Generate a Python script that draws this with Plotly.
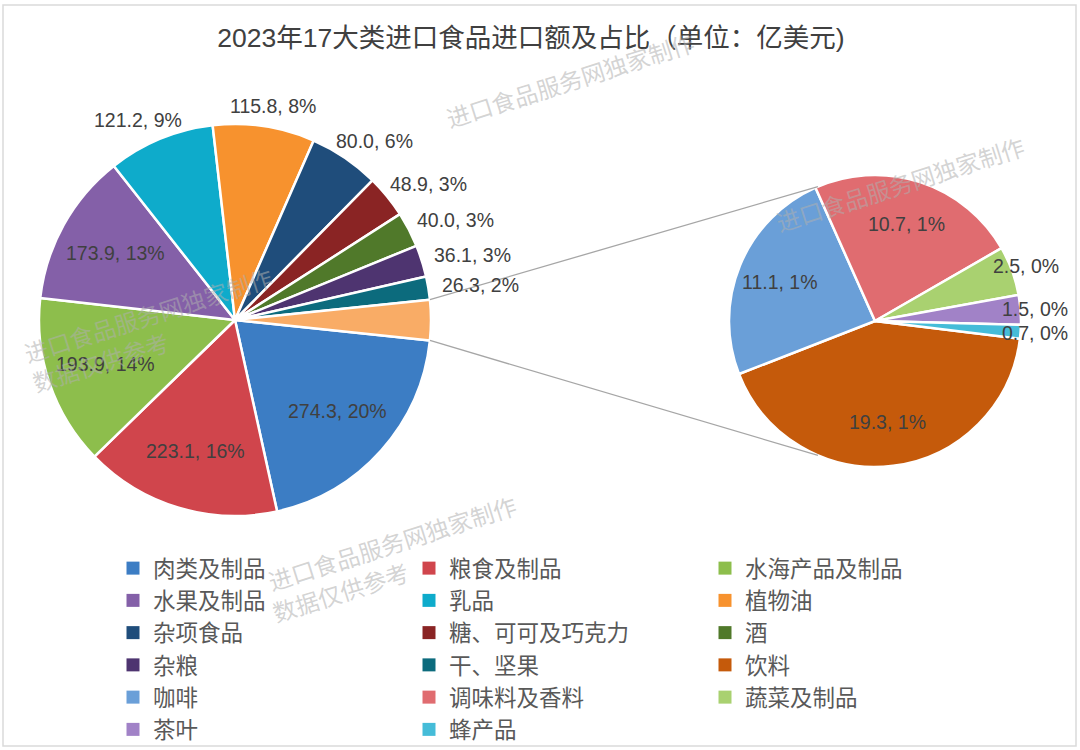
import math
import plotly.graph_objects as go

# main pie (the last slice is the sum of the small pie)
main_labels = ['肉类及制品', '粮食及制品', '水海产品及制品', '水果及制品', '乳品', '植物油',
               '杂项食品', '糖、可可及巧克力', '酒', '杂粮', '干、坚果']
main_values = [274.3, 223.1, 193.9, 173.9, 121.2, 115.8, 80.0, 48.9, 40.0, 36.1, 26.3]
main_pct = [20, 16, 14, 13, 9, 8, 6, 3, 3, 3, 2]
main_colors = ['#3C7DC4', '#D0454C', '#8DBE4C', '#8460A8', '#0EABCB', '#F7922E',
               '#1F4D7B', '#8A2424', '#50792A', '#4E3470', '#0C6B7D']

# second pie
sub_labels = ['饮料', '咖啡', '调味料及香料', '蔬菜及制品', '茶叶', '蜂产品']
sub_values = [19.3, 11.1, 10.7, 2.5, 1.5, 0.7]
sub_pct = [1, 1, 1, 0, 0, 0]
sub_colors = ['#C55A0B', '#6A9FD8', '#E06C70', '#A9D170', '#A182C7', '#45BCD8']
other_color = '#F9AC66'

W, H = 1080, 750
main_cx, main_cy, main_r = 235, 320, 196
sub_cx, sub_cy, sub_r = 875, 321, 146
rot1, rot2 = 96, 97
txt_color = '#404040'
fs = 19.5
num_font = 'Liberation Sans, Arial, sans-serif'
cjk_font = 'Noto Sans CJK SC, sans-serif'


def dom(cx, cy, r):
    return dict(x=[(cx - r) / W, (cx + r) / W], y=[1 - (cy + r) / H, 1 - (cy - r) / H])


def px(cx, cy, r, ang):
    a = math.radians(ang)
    return cx + r * math.sin(a), cy - r * math.cos(a)


def to_paper(x, y):
    return x / W, 1 - y / H


other_val = round(sum(sub_values), 1)
pie1_vals = main_values + [other_val]

fig = go.Figure()
fig.add_trace(go.Pie(
    labels=main_labels + ['其他'], values=pie1_vals, textinfo='none',
    sort=False, direction='clockwise', rotation=rot1,
    marker=dict(colors=main_colors + [other_color], line=dict(color='white', width=2.5)),
    domain=dom(main_cx, main_cy, main_r), showlegend=False, hoverinfo='skip'))
fig.add_trace(go.Pie(
    labels=sub_labels, values=sub_values, textinfo='none',
    sort=False, direction='clockwise', rotation=rot2,
    marker=dict(colors=sub_colors, line=dict(color='white', width=2.5)),
    domain=dom(sub_cx, sub_cy, sub_r), showlegend=False, hoverinfo='skip'))

annotations = []


def add_labels(values, pct, n_in, cx, cy, r, rot, rim=False):
    tot = sum(values)
    acc = 0
    for i, v in enumerate(values):
        mid = rot + 360 * (acc + v / 2) / tot
        acc += v
        if i >= len(pct):
            continue
        t = '%.1f, %d%%' % (v, pct[i])
        if i < n_in:
            x, y = px(cx, cy, r * 0.7, mid)
        elif rim:
            x, y = px(cx, cy, r * 1.1, mid)
        else:
            # outside: box pushed off the rim along the bisector
            x, y = px(cx, cy, r + 10, mid)
            hw = len(t) * 0.55 * fs / 2
            x += hw * math.sin(math.radians(mid))
            y -= 10 * math.cos(math.radians(mid))
        xp, yp = to_paper(x, y)
        annotations.append(dict(x=xp, y=yp, xref='paper', yref='paper', text=t, showarrow=False,
                                xanchor='center', yanchor='middle',
                                font=dict(size=fs, color=txt_color, family=num_font)))


add_labels(pie1_vals, main_pct, 4, main_cx, main_cy, main_r, rot1)
add_labels(sub_values, sub_pct, 3, sub_cx, sub_cy, sub_r, rot2, rim=True)

# legend entries, three columns
for i, (lab, col) in enumerate(zip(main_labels + sub_labels, main_colors + sub_colors)):
    lg = ['legend', 'legend2', 'legend3'][i % 3]
    fig.add_trace(go.Scatter(x=[None], y=[None], mode='markers', name=lab, legend=lg,
                             marker=dict(symbol='square', size=13, color=col)))

# connector lines between the "other" slice and the second pie
tot1 = sum(pie1_vals)
a_start = rot1 + 360 * sum(main_values) / tot1
a_end = rot1 + 360
shapes = []
for a1, a2 in [(a_start, 337), (a_end, 203)]:
    x0, y0 = to_paper(*px(main_cx, main_cy, main_r, a1))
    x1, y1 = to_paper(*px(sub_cx, sub_cy, sub_r, a2))
    shapes.append(dict(type='line', xref='paper', yref='paper', x0=x0, y0=y0, x1=x1, y1=y1,
                       line=dict(color='#A6A6A6', width=1.3)))
shapes.append(dict(type='rect', xref='paper', yref='paper', x0=3 / W, x1=1076 / W,
                   y0=1 - 746 / H, y1=1 - 5 / H, line=dict(color='#DADADA', width=1.5)))

# watermarks
wm_main = '进口食品服务网独家制作'
wm_sub = '数据仅供参考'
wm = [(wm_main, 570, 80), (wm_main, 900, 184), (wm_main, 148, 315), (wm_sub, 100, 362),
      (wm_main, 392, 543), (wm_sub, 340, 592)]
for t, x, y in wm:
    annotations.append(dict(x=x / W, y=1 - y / H, xref='paper', yref='paper', text=t,
                            showarrow=False, textangle=-17.5, xanchor='center', yanchor='middle',
                            font=dict(size=23.5, color='rgba(175,175,175,0.55)', family=cjk_font)))

leg_style = dict(orientation='v', xanchor='left', yanchor='top', y=1 - 547 / H,
                 font=dict(size=22.5, color='#595959', family=cjk_font),
                 bgcolor='rgba(0,0,0,0)', itemclick=False, itemdoubleclick=False,
                 traceorder='normal')

fig.update_layout(
    width=W, height=H, margin=dict(l=0, r=0, t=0, b=0, autoexpand=False),
    paper_bgcolor='white', plot_bgcolor='white',
    title=dict(text='2023年17大类进口食品进口额及占比（单位：亿美元)', x=531 / W, xanchor='center',
               y=1 - 38 / H, yanchor='middle', yref='container',
               font=dict(size=26.5, color=txt_color, family='Liberation Sans, Noto Sans CJK SC')),
    xaxis=dict(visible=False), yaxis=dict(visible=False),
    legend=dict(x=113 / W, **leg_style),
    legend2=dict(x=409 / W, **leg_style),
    legend3=dict(x=705 / W, **leg_style),
    shapes=shapes, annotations=annotations,
)

fig.write_html('out.html', config={'displayModeBar': False},
               post_script="document.body.style.margin='0px';")
